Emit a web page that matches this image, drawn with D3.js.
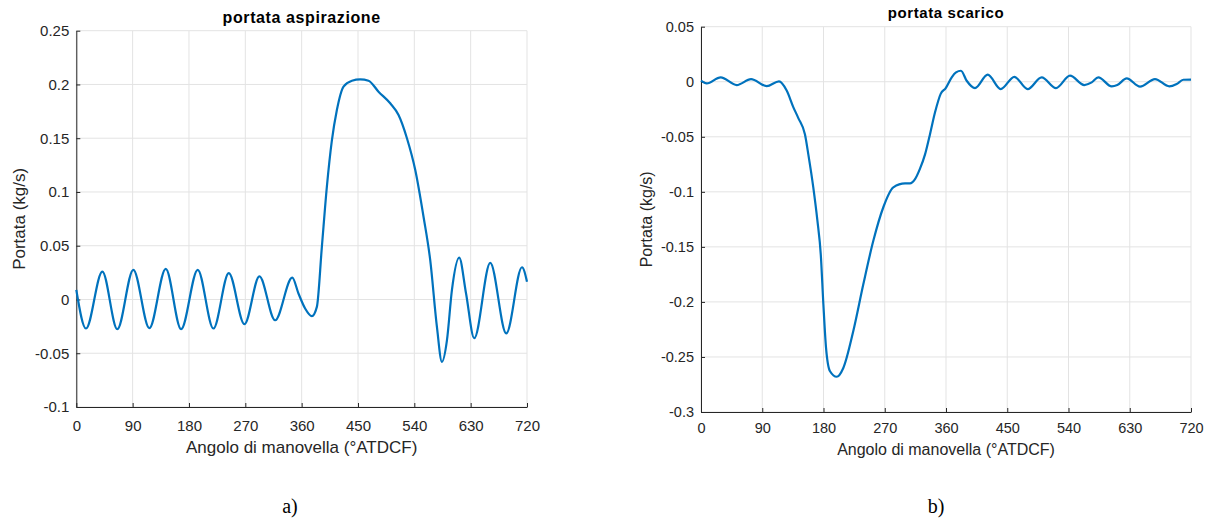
<!DOCTYPE html>
<html>
<head>
<meta charset="utf-8">
<script src="https://cdn.jsdelivr.net/npm/d3@7"></script>
<style>
  body { margin: 0; background: #fff; }
  svg { display: block; font-family: "Liberation Sans", Arial, sans-serif; }
</style>
</head>
<body>
<svg id="chart"></svg>
<script>
// ---- data ----
var xTicks = [0, 90, 180, 270, 360, 450, 540, 630, 720]

// a) portata aspirazione
var angoloA = [0, 15.5, 41.6, 65.5, 91.1, 116.7, 142.9, 167.4, 194, 219, 243.6, 268.6, 292.5, 317.6, 345,
  354.9, 365.6, 376.3, 384.3, 392.3, 400.3, 408.3, 416.2, 426.9, 440.3, 453.5, 466.8, 482.8, 501.5, 514.8,
  528.2, 541.5, 554.7, 565.4, 576.1, 584.1, 592.1, 600.1, 611.7, 622.5, 635.7, 661.3, 686.9, 712, 720]
var portataA = [0.009, -0.027, 0.026, -0.0276, 0.0276, -0.0267, 0.0285, -0.0276, 0.0276, -0.027, 0.0245, -0.023, 0.0215, -0.0193, 0.0203,
  0.0056, -0.0084, -0.0155, -0.0069, 0.049, 0.105, 0.148, 0.176, 0.198, 0.2035, 0.2048, 0.2035, 0.1933, 0.1825, 0.1716,
  0.150, 0.1204, 0.077, 0.0366, -0.0255, -0.058, -0.038, 0.009, 0.039, 0.0061, -0.036, 0.034, -0.0316, 0.030, 0.0166]
var yTicksA = [-0.1, -0.05, 0, 0.05, 0.1, 0.15, 0.2, 0.25]

// b) portata scarico
var angoloB = [0, 8.4, 28.9, 52.5, 73.5, 96.5, 114.6, 125.9, 135.6, 143, 152.8, 157.7, 165, 171, 176,
  179.8, 183.7, 189.6, 199.4, 209.1, 223.8, 238.5, 253.2, 267.9, 282.6, 299.8, 307.1, 314.5, 321.8, 329.2,
  336.5, 343.8, 352.2, 359.6, 368.4, 374.7, 382, 390.4, 402.6, 421.3, 440.4, 460.4, 480, 500.6, 521.6,
  542.2, 563.2, 574.1, 583.8, 603.5, 611.7, 625.5, 645.1, 667.1, 688.1, 699, 708.7, 720]
var portataB = [0.001, -0.0015, 0.004, -0.003, 0.0024, -0.004, 0.0003, -0.008, -0.023, -0.033, -0.048, -0.066, -0.096, -0.126, -0.157,
  -0.202, -0.2415, -0.263, -0.268, -0.260, -0.2264, -0.184, -0.1445, -0.114, -0.096, -0.0924, -0.0924, -0.0885, -0.079, -0.066,
  -0.0476, -0.028, -0.011, -0.0058, 0.004, 0.0085, 0.010, 0.0009, -0.0058, 0.0064, -0.0067, 0.0045, -0.0067, 0.004, -0.0058,
  0.0055, -0.003, -0.0006, 0.004, -0.0042, -0.003, 0.003, -0.0045, 0.0024, -0.0042, -0.002, 0.0018, 0.002]
var yTicksB = [-0.3, -0.25, -0.2, -0.15, -0.1, -0.05, 0, 0.05]

var width = 1213, height = 524

var svg = d3.select("#chart")
  .attr("width", width)
  .attr("height", height)

var lineColor = "#0072bd"
var axisColor = "#262626"
var gridColor = "#e3e3e3"

function drawPanel(p) {
  var x = d3.scaleLinear().domain([0, 720]).range([p.left, p.right])
  var y = d3.scaleLinear().domain(p.yDomain).range([p.bottom, p.top])
  var g = svg.append("g")

  // grid
  g.append("g").selectAll("line")
    .data(xTicks).enter().append("line")
      .attr("x1", function(d) { return x(d) }).attr("x2", function(d) { return x(d) })
      .attr("y1", p.top).attr("y2", p.bottom)
      .attr("stroke", gridColor)
  g.append("g").selectAll("line")
    .data(p.yTicks).enter().append("line")
      .attr("y1", function(d) { return y(d) }).attr("y2", function(d) { return y(d) })
      .attr("x1", p.left).attr("x2", p.right)
      .attr("stroke", gridColor)

  // axes, ticks pointing inward
  var xAxis = g.append("g")
    .attr("transform", "translate(0," + p.bottom + ")")
    .call(d3.axisBottom(x).tickValues(xTicks).tickSizeInner(-4).tickSizeOuter(0).tickPadding(p.xPad))
  var yAxis = g.append("g")
    .attr("transform", "translate(" + p.left + ",0)")
    .call(d3.axisLeft(y).tickValues(p.yTicks).tickFormat(function(d) { return String(+d.toFixed(2)) })
      .tickSizeInner(-4).tickSizeOuter(0).tickPadding(7))

  ;[xAxis, yAxis].forEach(function(a) {
    a.select(".domain").attr("stroke", axisColor)
    a.selectAll(".tick line").attr("stroke", axisColor)
    a.selectAll(".tick text")
      .attr("fill", axisColor)
      .style("font-size", p.tickSize + "px")
      .style("font-family", "Liberation Sans, Arial, sans-serif")
  })

  // curve
  var line = d3.line()
    .x(function(d) { return x(d[0]) })
    .y(function(d) { return y(d[1]) })
    .curve(d3.curveMonotoneX)

  g.append("path")
    .datum(d3.zip(p.angles, p.values))
    .attr("d", line)
    .attr("fill", "none")
    .attr("stroke", lineColor)
    .attr("stroke-width", 2.2)
    .attr("stroke-linejoin", "round")

  // title
  g.append("text")
    .text(p.title)
    .attr("x", (p.left + p.right) / 2)
    .attr("y", p.titleY)
    .attr("text-anchor", "middle")
    .style("font-weight", "bold")
    .style("font-size", p.titleSize + "px")
    .style("letter-spacing", "0.6px")
    .attr("fill", "#000")

  // axis labels
  g.append("text")
    .text("Angolo di manovella (°ATDCF)")
    .attr("x", (p.left + p.right) / 2)
    .attr("y", p.xLabelY)
    .attr("text-anchor", "middle")
    .style("font-size", p.labelSize + "px")
    .attr("fill", axisColor)

  g.append("text")
    .text("Portata (kg/s)")
    .attr("transform", "translate(" + p.yLabelX + "," + (p.top + p.bottom) / 2 + ") rotate(-90)")
    .attr("text-anchor", "middle")
    .style("font-size", p.labelSize + "px")
    .attr("fill", axisColor)

  // caption a) / b)
  g.append("text")
    .text(p.caption)
    .attr("x", p.captionX)
    .attr("y", 513)
    .attr("text-anchor", "middle")
    .style("font-family", "Liberation Serif, Times New Roman, serif")
    .style("font-size", "20px")
    .attr("fill", "#000")
}

drawPanel({
  title: "portata aspirazione", caption: "a)", captionX: 290,
  angles: angoloA, values: portataA, yTicks: yTicksA, yDomain: [-0.1, 0.25],
  left: 76.3, right: 527, top: 30.7, bottom: 407,
  xPad: 13, tickSize: 15, titleSize: 16, titleY: 22.7, labelSize: 17,
  xLabelY: 453, yLabelX: 25
})

drawPanel({
  title: "portata scarico", caption: "b)", captionX: 936,
  angles: angoloB, values: portataB, yTicks: yTicksB, yDomain: [-0.3, 0.05],
  left: 701, right: 1191, top: 26.7, bottom: 412,
  xPad: 11, tickSize: 14.5, titleSize: 15, titleY: 18.3, labelSize: 16,
  xLabelY: 455, yLabelX: 651.5
})
</script>
</body>
</html>
